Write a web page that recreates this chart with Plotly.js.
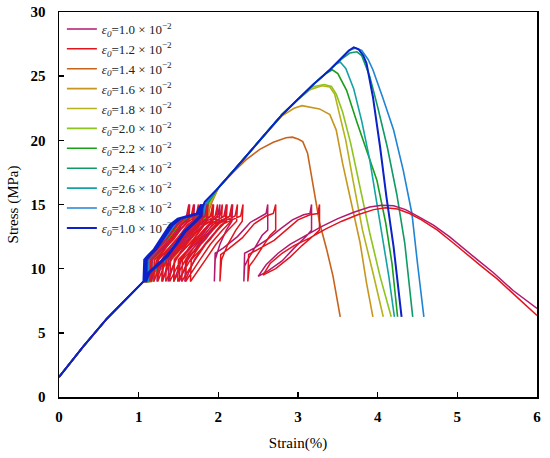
<!DOCTYPE html>
<html>
<head>
<meta charset="utf-8">
<script src="https://cdn.plot.ly/plotly-3.0.1.min.js"></script>
<style>html,body{margin:0;padding:0;background:#fff;}#chart{width:550px;height:458px;}</style>
</head>
<body>
<div id="chart"></div>
<script>
// legend labels (strain amplitude)
var labels = ["1.0","1.2","1.4","1.6","1.8","2.0","2.2","2.4","2.6","2.8","1.0"];
var colors = ["#b3186e","#e2141c","#c8631c","#c8951e","#b5b21c","#8ec41e","#17a01a","#0f9a66","#14a2a4","#1f84d4","#0b22c9"];

// shared initial elastic segment
var xStart = [0, 0.3, 0.6, 0.85, 1.06];
var yStart = [1.55, 3.9, 6.1, 7.7, 9.0];

// eps0 = 1.0e-2 (magenta)
var x10 = [1.10,1.11,1.20,1.35,1.48,1.60,1.63,1.62,1.51,1.36,1.23,
  1.16,1.17,1.26,1.41,1.54,1.67,1.70,1.69,1.58,1.43,1.30,
  1.23,1.24,1.33,1.48,1.61,1.75,1.78,1.77,1.66,1.51,1.38,
  1.30,1.31,1.40,1.55,1.68,1.83,1.86,1.85,1.74,1.59,1.46,
  1.37,1.38,1.47,1.62,1.75,1.91,1.94,1.93,1.82,1.67,1.54,
  1.44,1.45,1.54,1.69,1.82,1.99,2.02,2.01,1.90,1.75,1.62,
  1.51,1.52,1.61,1.76,1.89,2.07,2.10,2.09,1.98,1.83,1.70,
  1.58,1.59,1.68,1.83,1.96,2.15,2.18,2.17,2.10,2.02,1.96,
  1.95,1.96,2.06,2.24,2.40,2.53,2.60,2.62,2.62,2.55,2.45,2.37,2.33,2.32,
  2.33,2.45,2.62,2.78,2.93,3.07,3.15,3.17,3.17,3.10,2.95,2.80,2.62,2.50,
  2.60,2.75,2.90,3.10,3.30,3.50,3.70,3.90,4.05,4.20,4.35,4.50,4.70,4.90,5.05,5.25,5.45,5.70,6.00];
var y10 = [9.0,10.7,11.3,12.3,13.4,14.1,15.0,13.7,13.0,11.9,10.7,
  9.0,10.7,11.3,12.3,13.4,14.1,15.0,13.7,13.0,11.9,10.7,
  9.0,10.7,11.3,12.3,13.4,14.1,15.0,13.7,13.0,11.9,10.7,
  9.0,10.7,11.3,12.3,13.4,14.1,15.0,13.7,13.0,11.9,10.7,
  9.0,10.7,11.3,12.3,13.4,14.1,15.0,13.7,13.0,11.9,10.7,
  9.0,10.7,11.3,12.3,13.4,14.1,15.0,13.7,13.0,11.9,10.7,
  9.0,10.7,11.3,12.3,13.4,14.1,15.0,13.7,13.0,11.9,10.7,
  9.0,10.7,11.3,12.3,13.4,14.1,15.0,13.7,13.0,11.9,10.7,
  9.0,11.2,11.6,12.5,13.6,14.1,14.3,15.0,13.0,12.6,11.6,10.7,10.2,9.0,
  11.2,11.6,12.3,13.1,13.8,14.2,14.3,15.0,13.0,12.5,11.6,10.6,9.8,9.4,
  10.3,11.2,11.9,12.6,13.3,13.9,14.4,14.8,14.95,14.9,14.6,14.1,13.4,12.5,11.7,10.7,9.7,8.3,6.9];

// eps0 = 1.2e-2 (red)
var x12 = [1.10,1.11,1.20,1.35,1.48,1.61,1.64,1.63,1.52,1.37,1.24,
  1.14,1.15,1.24,1.39,1.52,1.66,1.69,1.68,1.57,1.42,1.29,
  1.19,1.20,1.29,1.44,1.57,1.72,1.75,1.74,1.63,1.48,1.35,
  1.24,1.25,1.34,1.49,1.62,1.78,1.81,1.80,1.69,1.54,1.41,
  1.29,1.30,1.39,1.54,1.67,1.84,1.87,1.86,1.75,1.60,1.47,
  1.34,1.35,1.44,1.59,1.72,1.90,1.93,1.92,1.81,1.66,1.53,
  1.39,1.40,1.49,1.64,1.77,1.96,1.99,1.98,1.87,1.72,1.59,
  1.44,1.45,1.54,1.69,1.82,2.02,2.05,2.04,1.93,1.78,1.65,
  1.49,1.50,1.59,1.74,1.87,2.08,2.11,2.10,1.99,1.84,1.71,
  1.54,1.55,1.64,1.79,1.92,2.14,2.17,2.16,2.05,1.90,1.77,
  1.59,1.60,1.69,1.84,1.97,2.21,2.24,2.23,2.12,1.97,1.84,
  1.65,1.66,1.75,1.90,2.03,2.28,2.31,2.30,2.22,2.12,2.04,
  2.02,2.03,2.12,2.30,2.45,2.60,2.69,2.72,2.72,2.65,2.55,2.45,2.39,2.37,
  2.38,2.50,2.70,2.85,3.00,3.15,3.25,3.27,3.27,3.20,3.05,2.90,2.72,2.56,
  2.65,2.80,2.95,3.15,3.35,3.55,3.75,3.95,4.10,4.25,4.40,4.55,4.75,4.95,5.10,5.30,5.50,5.75,6.00];
var y12 = [9.0,10.7,11.3,12.3,13.4,14.1,15.0,13.7,13.0,11.9,10.7,
  9.0,10.7,11.3,12.3,13.4,14.1,15.0,13.7,13.0,11.9,10.7,
  9.0,10.7,11.3,12.3,13.4,14.1,15.0,13.7,13.0,11.9,10.7,
  9.0,10.7,11.3,12.3,13.4,14.1,15.0,13.7,13.0,11.9,10.7,
  9.0,10.7,11.3,12.3,13.4,14.1,15.0,13.7,13.0,11.9,10.7,
  9.0,10.7,11.3,12.3,13.4,14.1,15.0,13.7,13.0,11.9,10.7,
  9.0,10.7,11.3,12.3,13.4,14.1,15.0,13.7,13.0,11.9,10.7,
  9.0,10.7,11.3,12.3,13.4,14.1,15.0,13.7,13.0,11.9,10.7,
  9.0,10.7,11.3,12.3,13.4,14.1,15.0,13.7,13.0,11.9,10.7,
  9.0,10.7,11.3,12.3,13.4,14.1,15.0,13.7,13.0,11.9,10.7,
  9.0,10.7,11.3,12.3,13.4,14.1,15.0,13.7,13.0,11.9,10.7,
  9.0,10.7,11.3,12.3,13.4,14.1,15.0,13.7,13.0,11.9,10.7,
  9.0,11.1,11.5,12.4,13.5,14.1,14.3,15.0,13.0,12.6,11.6,10.7,10.2,9.0,
  11.1,11.5,12.2,13.0,13.8,14.2,14.3,15.0,13.0,12.6,11.8,10.9,10.0,9.5,
  10.4,11.2,11.8,12.4,13.1,13.7,14.2,14.6,14.75,14.65,14.3,13.8,13.0,12.0,11.2,10.2,9.2,7.8,6.35];

// common cyclic-band stress sequence for the higher amplitudes
var yBand = [9.0,10.7,11.0,11.5,12.5,13.4,13.9,14.1,14.3,15.0,14.1,13.6,12.9,12.0,11.0,10.3,9.7,9.0,10.7,11.0,11.5,12.5,13.4,13.9,14.1,14.3,15.2];

// eps0 = 1.4e-2
var x14b = [1.16,1.17,1.22,1.30,1.40,1.50,1.60,1.72,1.84,1.89,1.88,1.80,1.68,1.58,1.46,1.34,1.23,1.19,1.20,1.25,1.33,1.43,1.53,1.63,1.75,1.87,1.92];
var x14 = [2.00,2.20,2.35,2.52,2.69,2.85,2.93,3.00,3.06,3.12,3.19,3.27,3.36,3.44,3.53];
var y14 = [16.3,17.6,18.5,19.3,19.85,20.2,20.25,20.1,19.9,19.0,16.4,13.6,11.5,9.4,6.25];
// eps0 = 1.6e-2
var x16b = [1.15,1.16,1.21,1.29,1.39,1.49,1.59,1.71,1.83,1.88,1.87,1.79,1.67,1.57,1.45,1.33,1.22,1.18,1.19,1.24,1.32,1.42,1.52,1.62,1.74,1.86,1.91];
var x16 = [2.00,2.20,2.52,2.65,2.80,2.95,3.05,3.15,3.27,3.40,3.48,3.56,3.65,3.78,3.86,3.94];
var y16 = [16.3,17.7,20.0,20.9,21.9,22.5,22.7,22.6,22.45,22.0,20.8,18.2,15.6,12.0,8.9,6.25];
// eps0 = 1.8e-2
var x18b = [1.14,1.15,1.20,1.28,1.38,1.48,1.58,1.70,1.82,1.87,1.86,1.78,1.66,1.56,1.44,1.32,1.21,1.17,1.18,1.23,1.31,1.41,1.51,1.61,1.73,1.85,1.90];
var x18 = [2.00,2.20,2.52,2.80,3.00,3.15,3.30,3.40,3.46,3.52,3.60,3.69,3.81,3.94,4.07];
var y18 = [16.3,17.7,20.0,22.0,23.2,23.95,24.25,24.15,23.6,22.1,20.0,16.9,13.0,9.7,6.25];
// eps0 = 2.0e-2
var x20b = [1.13,1.14,1.19,1.27,1.37,1.47,1.57,1.69,1.81,1.86,1.85,1.77,1.65,1.55,1.43,1.31,1.20,1.16,1.17,1.22,1.30,1.40,1.50,1.60,1.72,1.84,1.89];
var x20 = [2.00,2.20,2.52,2.80,3.00,3.20,3.33,3.42,3.48,3.56,3.66,3.78,3.90,4.03,4.17];
var y20 = [16.3,17.7,20.0,22.0,23.2,24.2,24.35,24.2,23.6,22.2,19.8,16.4,12.8,9.4,6.25];
// eps0 = 2.2e-2
var x22b = [1.12,1.13,1.18,1.26,1.36,1.46,1.56,1.68,1.80,1.85,1.84,1.76,1.64,1.54,1.42,1.30,1.19,1.15,1.16,1.21,1.29,1.39,1.49,1.59,1.71,1.83,1.88];
var x22 = [2.00,2.20,2.52,2.80,3.00,3.20,3.35,3.43,3.50,3.61,3.74,3.86,3.99,4.10,4.18,4.25];
var y22 = [16.3,17.7,20.0,22.0,23.2,24.4,25.2,25.5,25.2,23.9,21.4,19.3,16.9,13.6,10.4,6.25];
// eps0 = 2.4e-2
var x24b = [1.11,1.12,1.17,1.25,1.35,1.45,1.55,1.67,1.79,1.84,1.83,1.75,1.63,1.53,1.41,1.29,1.18,1.14,1.15,1.20,1.28,1.38,1.48,1.58,1.70,1.82,1.87];
var x24 = [2.00,2.20,2.52,2.80,3.00,3.20,3.40,3.55,3.65,3.74,3.80,3.90,4.00,4.12,4.24,4.34,4.44];
var y24 = [16.3,17.7,20.0,22.0,23.2,24.4,25.5,26.35,26.8,26.9,26.6,25.0,22.6,19.5,15.8,12.0,6.25];
// eps0 = 2.6e-2
var x26b = [1.10,1.11,1.16,1.24,1.34,1.44,1.54,1.66,1.78,1.83,1.82,1.74,1.62,1.52,1.40,1.28,1.17,1.13,1.14,1.19,1.27,1.37,1.47,1.57,1.69,1.81,1.86];
var x26 = [2.00,2.20,2.52,2.80,3.00,3.20,3.40,3.48,3.53,3.60,3.70,3.80,3.90,3.98,4.06,4.14,4.21];
var y26 = [16.3,17.7,20.0,22.0,23.2,24.4,25.5,25.95,26.1,25.6,24.0,21.5,18.5,15.5,12.5,9.4,6.25];
// eps0 = 2.8e-2
var x28b = [1.09,1.10,1.15,1.23,1.33,1.43,1.53,1.65,1.77,1.82,1.81,1.73,1.61,1.51,1.39,1.27,1.16,1.12,1.13,1.18,1.26,1.36,1.46,1.56,1.68,1.80,1.85];
var x28 = [2.00,2.20,2.52,2.80,3.00,3.20,3.40,3.55,3.64,3.72,3.80,3.88,3.94,4.06,4.20,4.32,4.43,4.50,4.58];
var y28 = [16.3,17.7,20.0,22.0,23.2,24.4,25.5,26.4,27.0,27.2,27.0,26.3,25.5,23.4,20.8,17.7,14.3,10.4,6.25];
// last series (blue)
var xBlue = [1.06,1.07,1.11,1.19,1.29,1.39,1.49,1.61,1.73,1.78,1.77,1.69,1.57,1.47,1.35,1.23,1.12,1.07,
  1.08,1.12,1.20,1.31,1.41,1.51,1.63,1.75,1.80,1.79,1.71,1.59,1.49,1.37,1.25,1.14,1.09,
  1.10,1.14,1.22,1.33,1.43,1.53,1.65,1.77,1.83,
  2.00,2.20,2.52,2.80,3.00,3.20,3.40,3.55,3.64,3.70,3.76,3.82,3.86,3.94,4.03,4.11,4.20,4.30];
var yBlue = [9.0,10.7,11.0,11.5,12.5,13.4,13.9,14.1,14.3,15.0,14.1,13.6,12.9,12.0,11.0,10.3,9.7,9.0,
  10.7,11.0,11.5,12.5,13.4,13.9,14.1,14.3,15.0,14.1,13.6,12.9,12.0,11.0,10.3,9.7,9.0,
  10.7,11.0,11.5,12.5,13.4,13.9,14.1,14.3,15.2,
  16.3,17.7,20.0,22.0,23.2,24.4,25.5,26.4,27.0,27.25,27.1,26.6,26.0,23.4,19.5,15.6,11.7,6.25];

function lab(v){ return '<i>ε<sub>0</sub></i>=' + v + ' × 10<sup>−2</sup>'; }
function tr(i, xs, ys, w){
  return {x: xs, y: ys, type:'scatter', mode:'lines', name: lab(labels[i]), legendrank: i+1,
          line:{color: colors[i], width: w}, hoverinfo:'skip'};
}
var data = [
  tr(2, xStart.concat(x14b, x14), yStart.concat(yBand, y14), 1.6),
  tr(3, xStart.concat(x16b, x16), yStart.concat(yBand, y16), 1.6),
  tr(4, xStart.concat(x18b, x18), yStart.concat(yBand, y18), 1.6),
  tr(5, xStart.concat(x20b, x20), yStart.concat(yBand, y20), 1.6),
  tr(6, xStart.concat(x22b, x22), yStart.concat(yBand, y22), 1.6),
  tr(7, xStart.concat(x24b, x24), yStart.concat(yBand, y24), 1.6),
  tr(8, xStart.concat(x26b, x26), yStart.concat(yBand, y26), 1.6),
  tr(9, xStart.concat(x28b, x28), yStart.concat(yBand, y28), 1.6),
  tr(0, xStart.concat(x10), yStart.concat(y10), 1.5),
  tr(1, xStart.concat(x12), yStart.concat(y12), 1.5),
  tr(10, xStart.concat(xBlue), yStart.concat(yBlue), 2.0)
];
var serif = 'Liberation Serif, Times New Roman, serif';
var axFont = {family:serif, size:15, color:'#000', weight:'bold'};
var layout = {
  width:550, height:458,
  margin:{l:59, r:13, t:12, b:61},
  paper_bgcolor:'#fff', plot_bgcolor:'#fff',
  showlegend:true,
  legend:{x:0.006, y:0.995, xanchor:'left', yanchor:'top', bgcolor:'rgba(0,0,0,0)',
          font:{family:serif, size:13, color:'#222'},
          tracegroupgap:0, itemwidth:30},
  xaxis:{range:[0,6], dtick:1, tick0:0, ticks:'inside', ticklen:5, tickwidth:1.5, tickcolor:'#000',
         showline:true, linewidth:1.5, linecolor:'#000', mirror:true, showgrid:false, zeroline:false,
         tickfont:axFont, ticklabelstandoff:5,
         title:{text:'Strain(%)', standoff:14, font:{family:serif, size:15, color:'#000'}}},
  yaxis:{range:[0,30], dtick:5, tick0:0, ticks:'inside', ticklen:5, tickwidth:1.5, tickcolor:'#000',
         showline:true, linewidth:1.5, linecolor:'#000', mirror:true, showgrid:false, zeroline:false,
         tickfont:axFont, ticklabelstandoff:9,
         title:{text:'Stress (MPa)', standoff:8, font:{family:serif, size:15, color:'#000'}}}
};
Plotly.newPlot('chart', data, layout, {displayModeBar:false, staticPlot:true});
</script>
</body>
</html>
